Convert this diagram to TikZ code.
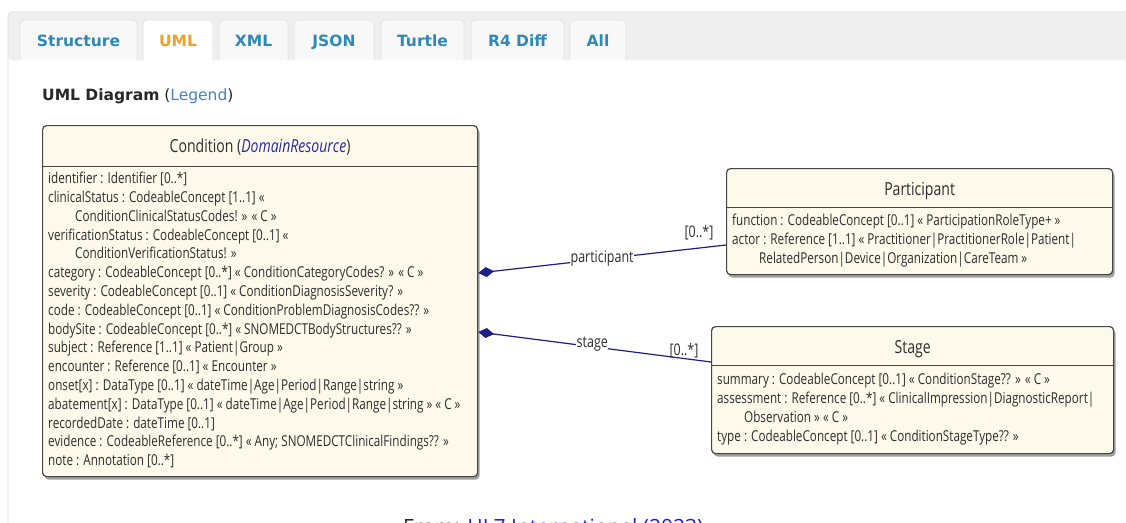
\documentclass[tikz,border=0pt]{standalone}
\usepackage{fontspec}
\setmainfont{Open Sans}
\newfontfamily\umlfont[FakeStretch=0.78]{Open Sans}
\newfontfamily\webfont{DejaVu Sans}
\usetikzlibrary{arrows.meta,shadows,calc}

\definecolor{panelgray}{RGB}{239,239,239}
\definecolor{panelline}{RGB}{221,221,221}
\definecolor{tabfill}{RGB}{248,248,248}
\definecolor{tabline}{RGB}{226,226,226}
\definecolor{tabblue}{RGB}{46,137,184}
\definecolor{taborange}{RGB}{240,160,40}
\definecolor{legendblue}{RGB}{70,130,200}
\definecolor{heading}{RGB}{40,40,40}
\definecolor{cream}{RGB}{253,250,235}
\definecolor{boxline}{RGB}{70,70,70}
\definecolor{umltext}{RGB}{45,45,45}
\definecolor{domblue}{RGB}{40,40,160}
\definecolor{navy}{RGB}{30,30,135}
\definecolor{linkblue}{RGB}{30,30,220}

\tikzset{
  tabshape/.style={draw=tabline, fill=tabfill, line width=0.8pt, rounded corners=4pt},
  tabactive/.style={draw=tabline, fill=white, line width=0.8pt, rounded corners=4pt},
  tablabel/.style={font=\webfont\bfseries\fontsize{15.5}{18}\selectfont, text=tabblue, inner sep=0pt, anchor=base},
  classbox/.style={draw=boxline, line width=1.2pt, fill=cream, rounded corners=4pt, anchor=north west,
    drop shadow={shadow xshift=2pt, shadow yshift=-3pt, fill=black!75, opacity=0.5}},
  classtitle/.style={font=\umlfont\fontsize{18}{20}\selectfont, text=umltext, inner sep=0pt, anchor=base},
  classbody/.style={font=\umlfont\fontsize{15}{18.8}\selectfont, text=umltext, align=left, inner sep=0pt, anchor=north west},
  sepline/.style={draw=boxline, line width=1pt},
  assoc/.style={draw=navy, line width=1.2pt, {Diamond[length=16pt,width=10pt,fill=navy]}-},
  rolelabel/.style={font=\umlfont\fontsize{16}{18}\selectfont, text=umltext, inner sep=0.5pt, fill=white},
  multlabel/.style={font=\umlfont\fontsize{16}{18}\selectfont, text=umltext, inner sep=0pt}
}

\begin{document}
\begin{tikzpicture}[x=1pt,y=-1pt]
\useasboundingbox (0,0) rectangle (1126,522);
\clip (0,0) rectangle (1126,522);
\fill[white] (0,0) rectangle (1126,522);

% tab panel: gray header band and the outer frame
\fill[panelgray, rounded corners=4pt] (8,60) |- (1140,12) -- (1140,60) -- cycle;
\draw[panelline, line width=0.8pt, rounded corners=4pt] (8,560) |- (1140,12);

% tabs
\draw[tabshape] (20,60) |- (137,20) -- (137,60);
\draw[tabactive] (143,61) |- (213,20) -- (213,61);
\draw[tabshape] (219,60) |- (288,20) -- (288,60);
\draw[tabshape] (294,60) |- (374,20) -- (374,60);
\draw[tabshape] (381,60) |- (464,20) -- (464,60);
\draw[tabshape] (471,60) |- (564,20) -- (564,60);
\draw[tabshape] (570,60) |- (626,20) -- (626,60);
\fill[white] (144,59.6) rectangle (212.4,62);

\node[tablabel] (tabStructure) at (78.5,46.5) {Structure};
\node[tablabel, text=taborange] (tabUML) at (178,46.5) {UML};
\node[tablabel] (tabXML) at (253.5,46.5) {XML};
\node[tablabel] (tabJSON) at (334,46.5) {JSON};
\node[tablabel] (tabTurtle) at (422.5,46.5) {Turtle};
\node[tablabel] (tabDiff) at (517.5,46.5) {R4 Diff};
\node[tablabel] (tabAll) at (598,46.5) {All};

% section heading
\node[font=\webfont\fontsize{15.5}{18}\selectfont, text=heading, inner sep=0pt, anchor=base west] (heading)
  at (42,100.5) {\textbf{UML Diagram} (\textcolor{legendblue}{Legend})};

% Condition class
\node[classbox, minimum width=435pt, minimum height=351pt] (cond) at (42,125) {};
\draw[sepline] ($(cond.north west)+(0,41)$) -- ($(cond.north east)+(0,41)$);
\node[classtitle] (condTitle) at ($(cond.north)+(0,27)$) {Condition (\textcolor{domblue}{\itshape DomainResource})};
\node[classbody] (condBody) at (48,172) {%
identifier : Identifier [0..*]\\
clinicalStatus : CodeableConcept [1..1] «\\
\hspace*{27pt}ConditionClinicalStatusCodes! » « C »\\
verificationStatus : CodeableConcept [0..1] «\\
\hspace*{27pt}ConditionVerificationStatus! »\\
category : CodeableConcept [0..*] « ConditionCategoryCodes? » « C »\\
severity : CodeableConcept [0..1] « ConditionDiagnosisSeverity? »\\
code : CodeableConcept [0..1] « ConditionProblemDiagnosisCodes?? »\\
bodySite : CodeableConcept [0..*] « SNOMEDCTBodyStructures?? »\\
subject : Reference [1..1] « Patient|Group »\\
encounter : Reference [0..1] « Encounter »\\
onset[x] : DataType [0..1] « dateTime|Age|Period|Range|string »\\
abatement[x] : DataType [0..1] « dateTime|Age|Period|Range|string » « C »\\
recordedDate : dateTime [0..1]\\
evidence : CodeableReference [0..*] « Any; SNOMEDCTClinicalFindings?? »\\
note : Annotation [0..*]};

% Participant class
\node[classbox, minimum width=386pt, minimum height=106pt] (part) at (726,168) {};
\draw[sepline] ($(part.north west)+(0,39)$) -- ($(part.north east)+(0,39)$);
\node[classtitle] (partTitle) at ($(part.north)+(0,27)$) {Participant};
\node[classbody] (partBody) at (732,214) {%
function : CodeableConcept [0..1] « ParticipationRoleType+ »\\
actor : Reference [1..1] « Practitioner|PractitionerRole|Patient|\\
\hspace*{27pt}RelatedPerson|Device|Organization|CareTeam »};

% Stage class
\node[classbox, minimum width=402pt, minimum height=127pt] (stage) at (711,326) {};
\draw[sepline] ($(stage.north west)+(0,39)$) -- ($(stage.north east)+(0,39)$);
\node[classtitle] (stageTitle) at ($(stage.north)+(0,27)$) {Stage};
\node[classbody] (stageBody) at (717,373) {%
summary : CodeableConcept [0..1] « ConditionStage?? » « C »\\
assessment : Reference [0..*] « ClinicalImpression|DiagnosticReport|\\
\hspace*{27pt}Observation » « C »\\
type : CodeableConcept [0..1] « ConditionStageType?? »};

% association end points on the class borders
\coordinate (condP) at ($(cond.north east)+(0,148)$);
\coordinate (condS) at ($(cond.north east)+(0,207)$);
\coordinate (partIn) at ($(part.north west)+(0,77)$);
\coordinate (stageIn) at ($(stage.north west)+(0,36)$);

\draw[assoc] (condP) -- (partIn)
  node[rolelabel, pos=0.5] (roleP) {participant};
\draw[assoc] (condS) -- (stageIn)
  node[rolelabel, pos=0.49, yshift=3pt] (roleS) {stage};
\node[multlabel] (multP) at ($(partIn)+(-27,-12)$) {[0..*]};
\node[multlabel] (multS) at ($(stageIn)+(-27,-11)$) {[0..*]};

% caption below the figure
\node[font=\fontsize{21}{24}\selectfont, text=heading, inner sep=0pt, anchor=base west] (caption)
  at (403,534) {From: \textcolor{linkblue}{HL7 International (2023)}};
\end{tikzpicture}
\end{document}
